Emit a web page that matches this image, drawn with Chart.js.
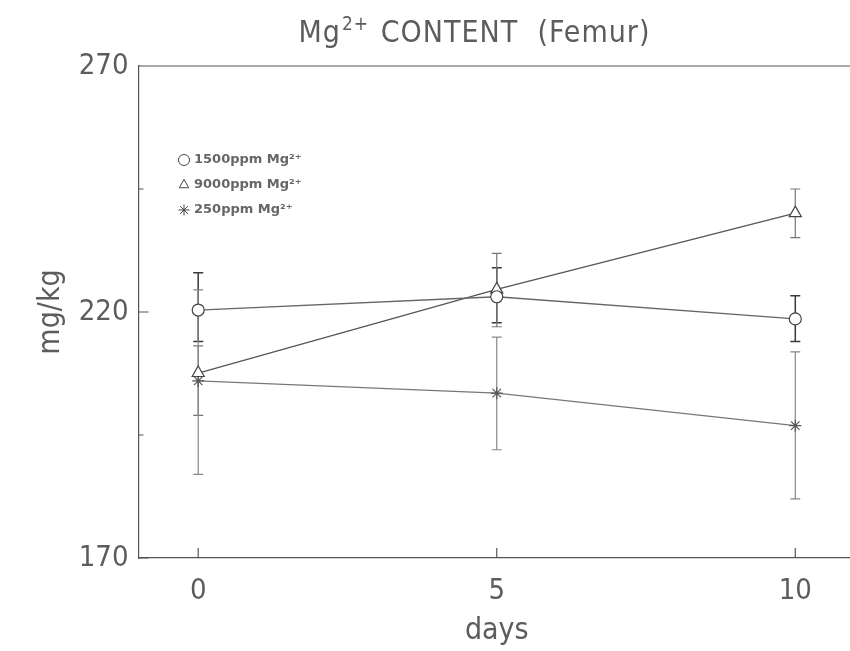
<!DOCTYPE html>
<html><head><meta charset="utf-8">
<script src="https://cdn.jsdelivr.net/npm/chart.js@4"></script>
<style>
html,body{margin:0;padding:0;background:#fff;overflow:hidden;width:850px;height:651px}
#wrap{position:relative;width:870px;height:651px}
</style></head>
<body><div id="wrap"><canvas id="c" width="870" height="651"></canvas></div>
<script>
// ---- data ----
const days = [0, 5, 10];
const xTickValues = [0, 5, 10];
const yTickValues = [170, 220, 270];
const yMinorTicks = [195, 245];
const seriesLabels = ['1500ppm Mg²⁺', '9000ppm Mg²⁺', '250ppm Mg²⁺'];
const mg1500 = [220.4, 223.1, 218.6];
const mg1500Low = [214.0, 217.8, 214.0];
const mg1500High = [228.0, 229.0, 223.3];
const mg9000 = [207.6, 224.6, 240.1];
const mg9000Low = [199.0, 217.0, 235.1];
const mg9000High = [213.1, 231.9, 245.0];
const mg250 = [206.0, 203.5, 196.9];
const mg250Low = [187.0, 192.0, 182.0];
const mg250High = [224.5, 214.9, 211.9];
const titleParts = ['Mg', '2+', ' CONTENT  (Femur)'];
const xTitle = 'days';
const yTitle = 'mg/kg';

const FONT = "'DejaVu Sans Condensed', 'Liberation Sans Narrow', sans-serif";
const TXT = '#5c5c5c';

const toPts = arr => days.map((d, i) => ({x: d, y: arr[i]}));
const errs = [
  {low: mg1500Low, high: mg1500High, color: '#3a3a3a', width: 1.5},
  {low: mg9000Low, high: mg9000High, color: '#777', width: 1.2},
  {low: mg250Low, high: mg250High, color: '#888', width: 1.2}
];

const errorBars = {
  id: 'errorBars',
  beforeDatasetsDraw(chart) {
    const ctx = chart.ctx, xs = chart.scales.x, ys = chart.scales.y;
    ctx.save();
    errs.forEach(e => {
      ctx.strokeStyle = e.color; ctx.lineWidth = e.width;
      days.forEach((d, i) => {
        const px = xs.getPixelForValue(d);
        const yl = ys.getPixelForValue(e.low[i]), yh = ys.getPixelForValue(e.high[i]);
        ctx.beginPath();
        ctx.moveTo(px, yl); ctx.lineTo(px, yh);
        ctx.moveTo(px - 5, yl); ctx.lineTo(px + 5, yl);
        ctx.moveTo(px - 5, yh); ctx.lineTo(px + 5, yh);
        ctx.stroke();
      });
    });
    ctx.restore();
  }
};

const frame = {
  id: 'frame',
  afterDraw(chart) {
    const ctx = chart.ctx, xs = chart.scales.x, ys = chart.scales.y, a = chart.chartArea;
    ctx.save();
    ctx.strokeStyle = '#555'; ctx.lineWidth = 1.2;
    ctx.beginPath();
    ctx.moveTo(a.left, a.top); ctx.lineTo(chart.width, a.top);
    yTickValues.forEach(v => { const p = ys.getPixelForValue(v); ctx.moveTo(a.left, p); ctx.lineTo(a.left + 10, p); });
    yMinorTicks.forEach(v => { const p = ys.getPixelForValue(v); ctx.moveTo(a.left, p); ctx.lineTo(a.left + 5, p); });
    xTickValues.forEach(v => { const p = xs.getPixelForValue(v); ctx.moveTo(p, a.bottom); ctx.lineTo(p, a.bottom - 10); });
    ctx.stroke();

    // title with superscript
    ctx.fillStyle = TXT;
    ctx.textBaseline = 'alphabetic';
    if ('letterSpacing' in ctx) ctx.letterSpacing = '1px';
    const big = '30px ' + FONT, small = '19px ' + FONT;
    ctx.font = big; const w1 = ctx.measureText(titleParts[0]).width, w3 = ctx.measureText(titleParts[2]).width;
    ctx.font = small; const w2 = ctx.measureText(titleParts[1]).width + 2;
    let x = 474 - (w1 + w2 + w3) / 2;
    const base = 42;
    ctx.font = big; ctx.fillText(titleParts[0], x, base); x += w1 + 1;
    ctx.font = small; ctx.fillText(titleParts[1], x, base - 12); x += w2;
    ctx.font = big; ctx.fillText(titleParts[2], x, base);
    if ('letterSpacing' in ctx) ctx.letterSpacing = '0px';

    // legend
    const lx = 184, ly = [160, 185, 210];
    chart.data.datasets.forEach((ds, i) => {
      ctx.fillStyle = '#fff'; ctx.strokeStyle = '#444'; ctx.lineWidth = 1;
      Chart.helpers.drawPoint(ctx, {pointStyle: ds.pointStyle, radius: 5.5, borderWidth: 1, rotation: 0}, lx, ly[i]);
      ctx.fillStyle = '#666';
      ctx.font = "bold 13px 'DejaVu Sans', sans-serif";
      ctx.textBaseline = 'middle';
      ctx.fillText(ds.label, lx + 10, ly[i]);
    });
    ctx.restore();
  }
};

new Chart(document.getElementById('c'), {
  type: 'line',
  data: {
    datasets: [
      {label: seriesLabels[0], data: toPts(mg1500), pointStyle: 'circle', pointRadius: 6,
       borderColor: '#666', borderWidth: 1.3, pointBorderColor: '#444', pointBackgroundColor: '#fff', pointBorderWidth: 1.2},
      {label: seriesLabels[1], data: toPts(mg9000), pointStyle: 'triangle', pointRadius: 7,
       borderColor: '#555', borderWidth: 1.3, pointBorderColor: '#444', pointBackgroundColor: '#fff', pointBorderWidth: 1.2},
      {label: seriesLabels[2], data: toPts(mg250), pointStyle: 'star', pointRadius: 6,
       borderColor: '#777', borderWidth: 1.2, pointBorderColor: '#555', pointBackgroundColor: '#fff', pointBorderWidth: 1.2}
    ]
  },
  options: {
    responsive: false, animation: false, devicePixelRatio: 1,
    layout: {padding: {top: 66, right: 15, left: 0, bottom: 0}},
    plugins: {legend: {display: false}, title: {display: false}, tooltip: {enabled: false}},
    scales: {
      x: {type: 'linear', min: -1, max: 11,
        afterBuildTicks: s => { s.ticks = xTickValues.map(v => ({value: v})); },
        afterFit: s => { s.height = 93; },
        grid: {display: false, drawTicks: false},
        border: {display: true, color: '#555', width: 1.2},
        ticks: {padding: 16, font: {family: FONT, size: 29}, color: TXT, maxRotation: 0, autoSkip: false},
        title: {display: true, text: xTitle, font: {family: FONT, size: 30}, color: TXT, padding: {top: 0, bottom: 2}}
      },
      y: {min: 170, max: 270,
        afterBuildTicks: s => { s.ticks = yTickValues.map(v => ({value: v})); },
        afterFit: s => { s.width = 138.5; },
        grid: {display: false, drawTicks: false},
        border: {display: true, color: '#555', width: 1.2},
        ticks: {padding: 10, font: {family: FONT, size: 29}, color: TXT, autoSkip: false},
        title: {display: true, text: yTitle, font: {family: FONT, size: 30}, color: TXT, padding: {top: 33, bottom: 0}}
      }
    }
  },
  plugins: [errorBars, frame]
});
</script>
</body></html>
